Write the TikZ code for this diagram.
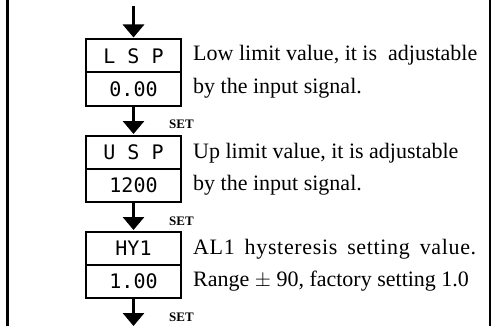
\documentclass[tikz,border=0pt]{standalone}
\usepackage{fontspec}
\setmainfont{Liberation Serif}
\newfontfamily\lcdfont{DejaVu Sans Mono}
\usetikzlibrary{arrows.meta}
\begin{document}
\begin{tikzpicture}[x=1pt,y=-1pt,
  dispbox/.style={draw, line width=2pt, minimum width=95pt, minimum height=33pt, inner sep=0pt,
    font=\lcdfont\fontsize{20}{20}\selectfont},
  desc/.style={anchor=base west, inner sep=0pt, font=\fontsize{22}{24}\selectfont},
  setlbl/.style={anchor=base west, inner sep=0pt, font=\fontsize{13}{13}\selectfont\bfseries},
  flow/.style={line width=3pt, -{Triangle[width=21pt,length=13pt]}, shorten >=1pt},
  frameline/.style={line width=#1}]
\useasboundingbox (0,0) rectangle (497,326);
\draw[frameline=3pt] (7.5,0) -- (7.5,326);
\draw[frameline=2pt] (490,0) -- (490,326);

% block 1
\node[dispbox] (lsp)  at (133.5,56)   {L S P};
\node[dispbox] (lspv) at (133.5,89)   {0.00};
% block 2
\node[dispbox] (usp)  at (133.5,152.5) {U S P};
\node[dispbox] (uspv) at (133.5,185.5) {1200};
% block 3
\node[dispbox] (hy)   at (133.5,248.5) {HY1};
\node[dispbox] (hyv)  at (133.5,281.5) {1.00};

\coordinate (start) at (133.5,6);
\coordinate (finish) at (133.5,327);
\draw[flow] (start) -- (lsp.north);
\draw[flow] (lspv.south) -- (usp.north);
\draw[flow] (uspv.south) -- (hy.north);
\draw[flow] (hyv.south) -- (finish);

\node[setlbl] (s1) at (169,128.5) {SET};
\node[setlbl] (s2) at (169,225) {SET};
\node[setlbl] (s3) at (169,321.5) {SET};

\node[desc] (d1a) at (193,61)  {Low limit value, it is\ \ adjustable};
\node[desc] (d1b) at (193,93)  {by the input signal.};
\node[desc] (d2a) at (193,158) {Up limit value, it is adjustable};
\node[desc] (d2b) at (193,190) {by the input signal.};
\node[desc] (d3a) at (193,254) {\addfontfeature{LetterSpace=3}\makebox[283pt][s]{AL1 hysteresis setting value.}};
\node[desc] (d3b) at (193,286) {Range $\pm$ 90, factory setting 1.0};
\end{tikzpicture}
\end{document}
